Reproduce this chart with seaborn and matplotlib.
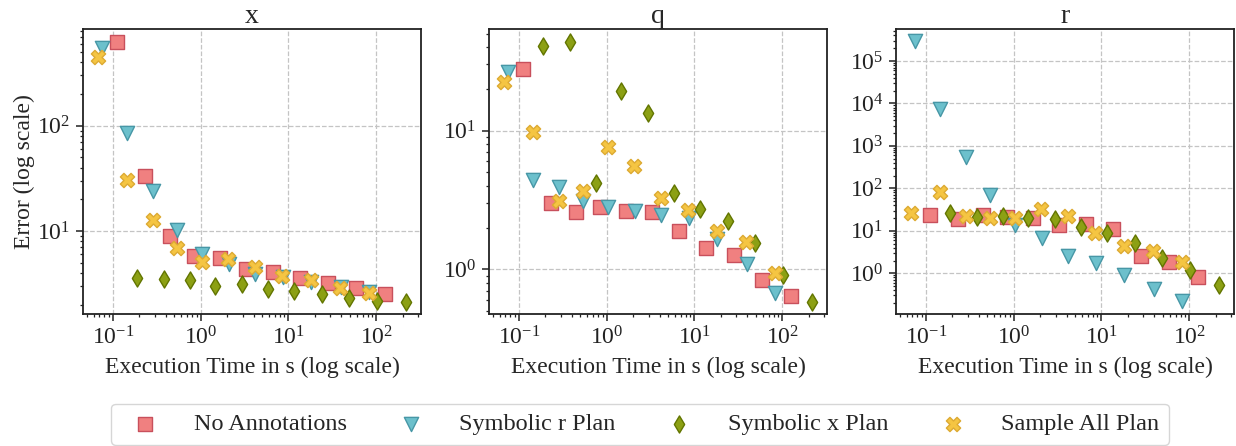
import numpy as np
import pandas as pd
import matplotlib
matplotlib.use("Agg")
import matplotlib.pyplot as plt
import seaborn as sns

# ---- data -------------------------------------------------------------
panels = ["x", "q", "r"]
plans = ["No Annotations", "Symbolic r Plan", "Symbolic x Plan", "Sample All Plan"]

# execution times (s) of each plan's runs
time_none = [0.11, 0.232, 0.45, 0.84, 1.67, 3.3, 6.7, 13.7, 28.4, 59.5, 126]
time_sym_r = [0.075, 0.146, 0.285, 0.54, 1.04, 2.08, 4.15, 8.7, 17.9, 39.4, 84]
time_sym_x = [0.19, 0.38, 0.75, 1.47, 2.93, 5.85, 11.7, 24, 49.7, 103.5, 220]
time_sample = [0.068, 0.143, 0.285, 0.535, 1.03, 2.03, 4.12, 8.5, 18.3, 39.2, 84]

# error on variable x
err_x_none = [627, 33.5, 9.0, 5.8, 5.6, 4.4, 4.1, 3.55, 3.23, 2.86, 2.52]
err_x_sym_r = [550, 84.6, 24.2, 10.2, 6.0, 4.9, 3.9, 3.7, 3.25, 2.96, 2.65]
err_x_sym_x = [3.56, 3.5, 3.43, 3.03, 3.12, 2.79, 2.69, 2.5, 2.33, 2.18, 2.13]
err_x_sample = [446, 30.5, 12.7, 6.83, 5.12, 5.38, 4.58, 3.74, 3.43, 2.86, 2.56]

# error on variable q
err_q_none = [27.7, 2.99, 2.58, 2.83, 2.64, 2.58, 1.89, 1.42, 1.26, 0.838, 0.642]
err_q_sym_r = [26.6, 4.4, 3.94, 3.11, 2.83, 2.64, 2.47, 2.33, 1.66, 1.10, 0.679]
err_q_sym_x = [41, 43.8, 4.17, 19.3, 13.5, 3.53, 2.72, 2.23, 1.54, 0.91, 0.585]
err_q_sample = [22.3, 9.7, 3.11, 3.69, 7.67, 5.6, 3.29, 2.68, 1.89, 1.56, 0.946]

# error on variable r
err_r_none = [23.8, 19.2, 23, 21, 20, 13.4, 14.4, 10.9, 2.49, 1.8, 0.835]
err_r_sym_r = [300000, 7480, 561, 69.7, 14, 6.7, 2.62, 1.73, 0.92, 0.428, 0.227]
err_r_sym_x = [27, 21, 21.8, 20, 19, 12, 8.8, 5.1, 2.27, 1.21, 0.531]
err_r_sample = [26, 83, 21.8, 20, 20, 32, 21.8, 8.8, 4.28, 3.26, 1.83]

times = {
    "No Annotations": time_none,
    "Symbolic r Plan": time_sym_r,
    "Symbolic x Plan": time_sym_x,
    "Sample All Plan": time_sample,
}
errors = {
    "x": [err_x_none, err_x_sym_r, err_x_sym_x, err_x_sample],
    "q": [err_q_none, err_q_sym_r, err_q_sym_x, err_q_sample],
    "r": [err_r_none, err_r_sym_r, err_r_sym_x, err_r_sample],
}

rows = []
for var in panels:
    for plan, errs in zip(plans, errors[var]):
        for t, e in zip(times[plan], errs):
            rows.append({"variable": var, "plan": plan, "time": t, "error": e})
df = pd.DataFrame(rows)

# ---- styling ----------------------------------------------------------
sns.set_theme(style="ticks")
plt.rcParams.update({
    "font.family": ["Liberation Serif", "DejaVu Serif"],
    "mathtext.fontset": "stix",
    "axes.edgecolor": "#222222",
    "axes.linewidth": 1.3,
    "axes.grid": True,
    "grid.color": "#c4c4c4",
    "grid.linestyle": "--",
    "grid.linewidth": 0.9,
    "xtick.major.size": 5,
    "ytick.major.size": 5,
    "xtick.minor.size": 2.5,
    "ytick.minor.size": 2.5,
    "xtick.major.width": 1.1,
    "ytick.major.width": 1.1,
    "xtick.minor.width": 0.9,
    "ytick.minor.width": 0.9,
    "xtick.color": "#222222",
    "ytick.color": "#222222",
})

style = {
    "No Annotations": dict(marker="s", color="#F08080", edgecolor="#C8505C", s=105),
    "Symbolic r Plan": dict(marker="v", color="#6CC0CC", edgecolor="#4797A6", s=105),
    "Symbolic x Plan": dict(marker="d", color="#8CA014", edgecolor="#627500", s=76),
    "Sample All Plan": dict(marker="X", color="#F5C542", edgecolor="#DDAA33", s=105),
}

ylims = {"x": (1.63, 828), "q": (0.476, 54), "r": (0.110, 5.66e5)}

fig = plt.figure(figsize=(12.36, 4.46), dpi=100)
lefts = [83, 489, 896]
axes = []
for left in lefts:
    ax = fig.add_axes([left / 1236, 1 - 314 / 446, 338 / 1236, 285 / 446])
    axes.append(ax)

for ax, var in zip(axes, panels):
    sub = df[df["variable"] == var]
    for plan in plans:
        d = sub[sub["plan"] == plan]
        st = style[plan]
        sns.scatterplot(data=d, x="time", y="error", ax=ax, marker=st["marker"],
                        color=st["color"], edgecolor=st["edgecolor"],
                        linewidth=1.0, s=st["s"], label=plan, zorder=3)
    ax.set_xscale("log")
    ax.set_yscale("log")
    ax.set_xlim(0.0455, 325)
    ax.set_ylim(*ylims[var])
    ax.set_title(var, fontsize=20, pad=4)
    ax.set_xlabel("Execution Time in s (log scale)", fontsize=17, labelpad=5)
    ax.set_ylabel("")
    ax.tick_params(axis="both", which="major", labelsize=17, pad=4)
    ax.grid(True, which="major")
    ax.grid(False, which="minor")
    for sp in ax.spines.values():
        sp.set_visible(True)
    ax.get_legend().remove()

axes[0].set_ylabel("Error (log scale)", fontsize=17, labelpad=2)

handles, labels = axes[0].get_legend_handles_labels()
fig.legend(handles, labels, loc="lower left", ncol=4, mode="expand",
           bbox_to_anchor=(111 / 1236, 1 / 446, 1058 / 1236, 40 / 446),
           borderaxespad=0, fontsize=17.5, frameon=True, handletextpad=1.0,
           borderpad=0.4, edgecolor="#cccccc")

fig.savefig("out.png", dpi=100)
